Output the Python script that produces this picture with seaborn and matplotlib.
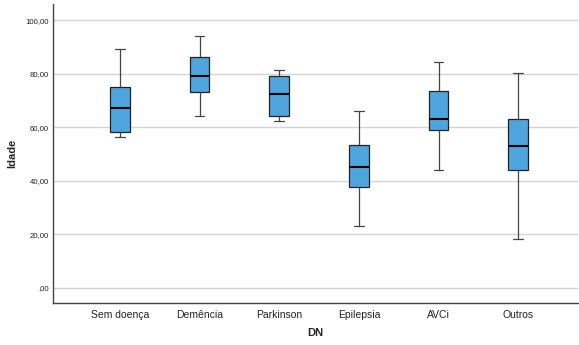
import matplotlib
matplotlib.use("Agg")
import matplotlib.pyplot as plt
import pandas as pd
import seaborn as sns

# five-number summaries: min, Q1, median, Q3, max
categories = ["Sem doença", "Demência", "Parkinson", "Epilepsia", "AVCi", "Outros"]
sem_doenca = [56.2, 58.3, 67.3, 75.1, 89.2]
demencia = [64.3, 73.3, 79.3, 86.3, 94.1]
parkinson = [62.3, 64.3, 72.3, 79.2, 81.3]
epilepsia = [23.1, 37.6, 45.3, 53.2, 66.2]
avci = [44.0, 59.0, 62.9, 73.6, 84.2]
outros = [18.2, 44.0, 53.1, 63.2, 80.3]

y_ticks = [0, 20, 40, 60, 80, 100]
y_tick_labels = [",00", "20,00", "40,00", "60,00", "80,00", "100,00"]

groups = [sem_doenca, demencia, parkinson, epilepsia, avci, outros]
df = pd.DataFrame({
    "DN": [c for c, g in zip(categories, groups) for _ in g],
    "Idade": [v for g in groups for v in g],
})

sns.set_style("white")
plt.rcParams["font.family"] = ["Liberation Sans", "DejaVu Sans"]

fig = plt.figure(figsize=(5.79, 3.45), dpi=100)
ax = fig.add_axes([53 / 579, 1 - 303 / 345, 525 / 579, 299 / 345])

sns.boxplot(
    data=df, x="DN", y="Idade", order=categories, ax=ax,
    whis=(0, 100), width=0.245, color="#4fa6de", saturation=1,
    linecolor="#222222", linewidth=0.9,
    medianprops={"color": "black", "linewidth": 1.5},
    whiskerprops={"color": "#444444", "linewidth": 0.9},
    capprops={"color": "#444444", "linewidth": 0.9},
)

ax.set_ylim(-5.6, 106)
ax.set_xlim(-0.84, 5.75)
ax.set_yticks(y_ticks)
ax.set_yticklabels(y_tick_labels, fontsize=5.6, color="#222222")
ax.tick_params(axis="x", labelsize=7.5, colors="#222222", length=0, pad=5)
ax.tick_params(axis="y", length=0, pad=3)
ax.yaxis.grid(True, color="#d4d4d4", linewidth=1)
ax.set_axisbelow(True)

for side in ["top", "right"]:
    ax.spines[side].set_visible(False)
for side in ["left", "bottom"]:
    ax.spines[side].set_color("#444444")
    ax.spines[side].set_linewidth(1)

ax.set_xlabel("DN", fontsize=8, fontweight="bold")
ax.set_ylabel("Idade", fontsize=8, fontweight="bold")
ax.yaxis.set_label_coords(-0.069, 0.5)
ax.xaxis.set_label_coords(0.5, -0.084)

fig.savefig("out.png", dpi=100)
